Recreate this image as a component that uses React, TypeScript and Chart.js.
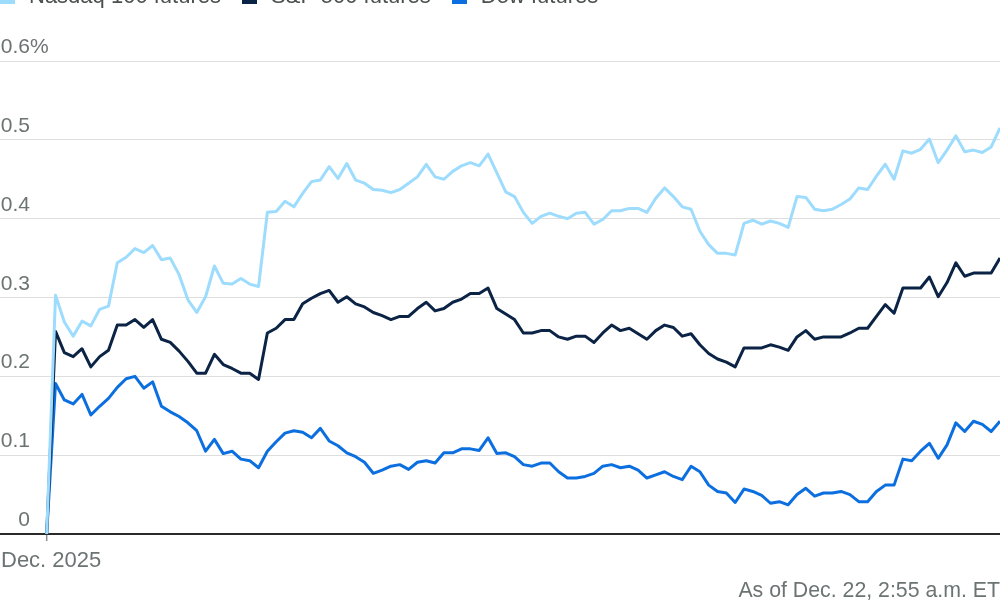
import { useEffect, useRef } from "react";
import { Chart, registerables } from "chart.js";

Chart.register(...registerables);

const seriesNames = ["Nasdaq 100 futures", "S&P 500 futures", "Dow futures"];
const seriesColors = ["#9ddcfd", "#0b2344", "#0c6fe0"];

const nasdaq = [
  0, 0.303, 0.269, 0.251, 0.27, 0.264, 0.285, 0.289, 0.344, 0.351,
  0.362, 0.357, 0.366, 0.348, 0.35, 0.329, 0.297, 0.281, 0.301, 0.34,
  0.318, 0.317, 0.324, 0.317, 0.314, 0.408, 0.409, 0.422, 0.415, 0.432,
  0.447, 0.449, 0.466, 0.451, 0.47, 0.449, 0.445, 0.437, 0.436, 0.433,
  0.437, 0.445, 0.453, 0.469, 0.453, 0.45, 0.46, 0.467, 0.471, 0.467,
  0.482, 0.458, 0.434, 0.428, 0.408, 0.394, 0.403, 0.407, 0.403, 0.4,
  0.407, 0.408, 0.393, 0.399, 0.41, 0.41, 0.413, 0.413, 0.408, 0.426,
  0.439, 0.428, 0.415, 0.412, 0.384, 0.367, 0.356, 0.356, 0.354, 0.394,
  0.398, 0.393, 0.397, 0.394, 0.389, 0.428, 0.427, 0.412, 0.41, 0.412,
  0.418, 0.425, 0.439, 0.437, 0.454, 0.469, 0.45, 0.486, 0.483, 0.488,
  0.501, 0.471, 0.487, 0.505, 0.485, 0.487, 0.484, 0.491, 0.515,
];

const sp500 = [
  0, 0.257, 0.23, 0.225, 0.235, 0.212, 0.225, 0.233, 0.265, 0.265,
  0.272, 0.262, 0.272, 0.247, 0.243, 0.232, 0.219, 0.204, 0.204, 0.228,
  0.215, 0.21, 0.204, 0.204, 0.196, 0.255, 0.261, 0.272, 0.272, 0.292,
  0.299, 0.305, 0.309, 0.294, 0.301, 0.292, 0.288, 0.281, 0.277, 0.272,
  0.276, 0.276, 0.286, 0.294, 0.283, 0.286, 0.294, 0.298, 0.305, 0.305,
  0.312, 0.286, 0.279, 0.272, 0.255, 0.255, 0.258, 0.258, 0.25, 0.247,
  0.251, 0.251, 0.243, 0.255, 0.265, 0.258, 0.261, 0.254, 0.247, 0.258,
  0.265, 0.262, 0.251, 0.254, 0.24, 0.229, 0.222, 0.218, 0.212, 0.236,
  0.236, 0.236, 0.24, 0.237, 0.233, 0.25, 0.258, 0.247, 0.25, 0.25,
  0.25, 0.255, 0.261, 0.261, 0.276, 0.291, 0.28, 0.312, 0.312, 0.312,
  0.326, 0.301, 0.319, 0.344, 0.327, 0.331, 0.331, 0.331, 0.35,
];

const dow = [
  0, 0.191, 0.17, 0.165, 0.177, 0.151, 0.162, 0.172, 0.186, 0.197,
  0.2, 0.185, 0.193, 0.162, 0.155, 0.149, 0.141, 0.131, 0.105, 0.12,
  0.102, 0.105, 0.095, 0.093, 0.084, 0.105, 0.117, 0.128, 0.131, 0.129,
  0.122, 0.134, 0.118, 0.112, 0.103, 0.098, 0.091, 0.077, 0.081, 0.086,
  0.088, 0.082, 0.091, 0.093, 0.09, 0.103, 0.103, 0.108, 0.108, 0.106,
  0.122, 0.102, 0.103, 0.098, 0.088, 0.086, 0.09, 0.09, 0.079, 0.071,
  0.071, 0.073, 0.077, 0.086, 0.088, 0.084, 0.086, 0.081, 0.071, 0.075,
  0.079, 0.073, 0.069, 0.086, 0.079, 0.062, 0.054, 0.052, 0.04, 0.057,
  0.054, 0.049, 0.039, 0.041, 0.037, 0.05, 0.058, 0.048, 0.052, 0.052,
  0.054, 0.05, 0.041, 0.041, 0.054, 0.062, 0.062, 0.095, 0.093, 0.105,
  0.115, 0.096, 0.113, 0.141, 0.13, 0.143, 0.139, 0.13, 0.143,
];

const yTicks = [0, 0.1, 0.2, 0.3, 0.4, 0.5, 0.6];
const yTickLabels = ["0", "0.1", "0.2", "0.3", "0.4", "0.5", "0.6"];
const xTickIndex = [0];
const xTickLabels = ["Dec. 2025"];
const noteText = "As of Dec. 22, 2:55 a.m. ET";

const FONT = '"Liberation Sans", Arial, sans-serif';
const TEXT_GRAY = "#6c7473";

const decorPlugin = {
  id: "decor",
  beforeDatasetsDraw(chart: any) {
    const { ctx, chartArea, scales } = chart;
    const y0 = scales.y.getPixelForValue(0);
    ctx.save();
    ctx.strokeStyle = "#8a8f8f";
    ctx.lineWidth = 1.5;
    xTickIndex.forEach((i) => {
      const x = scales.x.getPixelForValue(i);
      ctx.beginPath();
      ctx.moveTo(x, y0);
      ctx.lineTo(x, y0 + 7);
      ctx.stroke();
    });
    ctx.strokeStyle = "#2a2a2a";
    ctx.lineWidth = 2;
    ctx.beginPath();
    ctx.moveTo(chartArea.left, y0);
    ctx.lineTo(chartArea.right, y0);
    ctx.stroke();
    ctx.restore();
  },
  afterDraw(chart: any) {
    const { ctx, scales } = chart;
    ctx.save();
    ctx.fillStyle = TEXT_GRAY;
    ctx.font = `21px ${FONT}`;
    ctx.textBaseline = "alphabetic";
    yTicks.forEach((v, i) => {
      const y = scales.y.getPixelForValue(v) - 8;
      ctx.textAlign = "right";
      ctx.fillText(yTickLabels[i], 30, y);
      if (i === yTicks.length - 1) {
        ctx.textAlign = "left";
        ctx.fillText("%", 30, y);
      }
    });
    ctx.font = `22px ${FONT}`;
    ctx.textAlign = "left";
    xTickIndex.forEach((idx, i) => {
      const x = scales.x.getPixelForValue(idx);
      ctx.fillText(xTickLabels[i], Math.max(1, x - 46), 567);
    });
    ctx.font = `21.3px ${FONT}`;
    ctx.textAlign = "right";
    ctx.fillText(noteText, 1000, 597);
    ctx.restore();
  },
};

export default function App() {
  const canvasRef = useRef<HTMLCanvasElement | null>(null);

  useEffect(() => {
    const canvas = canvasRef.current;
    if (!canvas) return;
    const series = [nasdaq, sp500, dow];
    const chart = new Chart(canvas, {
      type: "line",
      data: {
        datasets: series.map((s, i) => ({
          label: seriesNames[i],
          data: s.map((v, k) => ({ x: k, y: v })),
          borderColor: seriesColors[i],
          backgroundColor: seriesColors[i],
          borderWidth: 3,
          pointRadius: 0,
          tension: 0,
          borderJoinStyle: "round" as const,
          fill: false,
        })),
      },
      options: {
        responsive: false,
        animation: false,
        devicePixelRatio: 1,
        layout: { padding: { top: 61, bottom: 66, left: 0, right: 0 } },
        plugins: {
          legend: { display: false },
          tooltip: { enabled: false },
        },
        scales: {
          x: {
            type: "linear",
            min: -5.29,
            max: 108,
            display: false,
          },
          y: {
            min: 0,
            max: 0.6,
            afterBuildTicks: (scale: any) => {
              scale.ticks = yTicks.map((v) => ({ value: v }));
            },
            ticks: { display: false },
            grid: { color: "#dedede", lineWidth: 1, drawTicks: false },
            border: { display: false },
          },
        },
      },
      plugins: [decorPlugin],
    });
    return () => chart.destroy();
  }, []);

  return (
    <div
      style={{
        position: "fixed",
        left: 0,
        top: 0,
        width: 1000,
        height: 600,
        overflow: "hidden",
        background: "#ffffff",
      }}
    >
      <canvas
        ref={canvasRef}
        width={1000}
        height={600}
        style={{ position: "absolute", left: 0, top: 0, width: 1000, height: 600 }}
      />
      <div
        style={{
          position: "absolute",
          left: 0,
          top: -15,
          whiteSpace: "nowrap",
          font: `22px ${FONT}`,
          lineHeight: "22px",
          color: "#4a4f4f",
        }}
      >
        {seriesNames.map((n, i) => (
          <span key={n} style={{ marginRight: 21 }}>
            <span
              style={{
                display: "inline-block",
                width: 15,
                height: 15,
                background: seriesColors[i],
                marginRight: 14,
                verticalAlign: "-1px",
              }}
            />
            {n}
          </span>
        ))}
      </div>
    </div>
  );
}
